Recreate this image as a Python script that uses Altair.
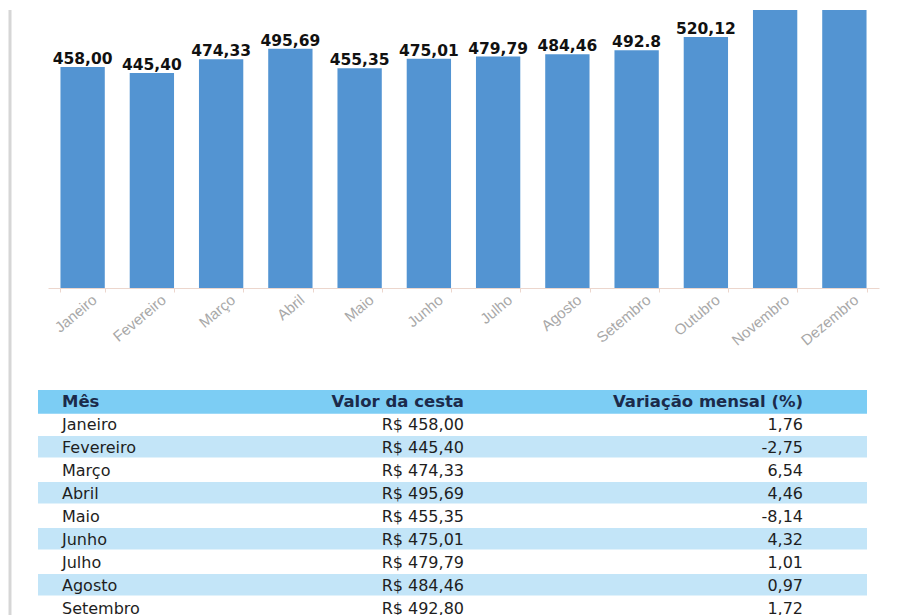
import altair as alt
import pandas as pd

# ---- data ----
months = ["Janeiro", "Fevereiro", "Março", "Abril", "Maio", "Junho", "Julho",
          "Agosto", "Setembro", "Outubro", "Novembro", "Dezembro"]
values = [458.00, 445.40, 474.33, 495.69, 455.35, 475.01, 479.79, 484.46,
          492.80, 520.12, 588.60, 578.13]
labels = ["458,00", "445,40", "474,33", "495,69", "455,35", "475,01", "479,79",
          "484,46", "492.8", "520,12", "588,60", "578,13"]

table_months = ["Janeiro", "Fevereiro", "Março", "Abril", "Maio", "Junho",
                "Julho", "Agosto", "Setembro"]
table_values = [458.00, 445.40, 474.33, 495.69, 455.35, 475.01, 479.79, 484.46, 492.80]
table_var = [1.76, -2.75, 6.54, 4.46, -8.14, 4.32, 1.01, 0.97, 1.72]
headers = ["Mês", "Valor da cesta", "Variação mensal (%)"]


def brl(v):
    return "R$ " + f"{v:.2f}".replace(".", ",")


def pct(v):
    return f"{v:.2f}".replace(".", ",")


bars_df = pd.DataFrame({"mes": months, "valor": values, "rotulo": labels})
table_df = pd.DataFrame({
    "row": list(range(1, len(table_months) + 1)),
    "mes": table_months,
    "valor": [brl(v) for v in table_values],
    "var": [pct(v) for v in table_var],
})
header_df = pd.DataFrame({"row": [0], "h1": [headers[0]], "h2": [headers[1]], "h3": [headers[2]]})
stripe_df = pd.DataFrame({"row": [0] + [r for r in table_df["row"] if r % 2 == 0]})

# ---- layout constants ----
W = 880
PLOT_H = 278
Y_MAX = 576.2
ROW_H = 23
N_ROWS = 10
TABLE_H = ROW_H * N_ROWS
GAP = 102

BAR_COLOR = "#5394d2"
HEADER_BAND = "#7ccdf4"
STRIPE_BAND = "#c3e5f8"
LINE_GRAY = "#d6d6d6"
AXIS_COLOR = "#ecd6cd"

# ---- bar chart ----
xenc = alt.X(
    "mes:N", sort=months, title=None,
    scale=alt.Scale(range=[40, 871], paddingInner=0.36, paddingOuter=0.18),
    axis=alt.Axis(labelAngle=320, labelAlign="right", labelBaseline="top",
                  labelOffset=7, labelPadding=0, labelFont="Liberation Sans",
                  labelFontSize=15, labelColor="#a8a8a8", domainColor=AXIS_COLOR,
                  tickColor=AXIS_COLOR, tickSize=4, tickBand="extent", grid=False),
)
yenc = alt.Y("valor:Q", title=None, axis=None,
             scale=alt.Scale(domain=[0, Y_MAX], nice=False, zero=True))

bars = alt.Chart(bars_df).mark_bar(color=BAR_COLOR, clip=True).encode(x=xenc, y=yenc)
bar_text = alt.Chart(bars_df).mark_text(
    font="DejaVu Sans", fontWeight="bold", fontSize=15.5, dy=-3,
    baseline="alphabetic", clip=True, color="#111111"
).encode(x=alt.X("mes:N", sort=months), y=alt.Y("valor:Q"), text="rotulo:N")
line_top = alt.Chart(alt.Data(values=[{}])).mark_rule(
    color=LINE_GRAY, strokeWidth=3
).encode(x=alt.value(2), y=alt.value(0), y2=alt.value(PLOT_H + GAP))

top = alt.layer(line_top, bars, bar_text).properties(width=W, height=PLOT_H)

# ---- table ----
yscale = alt.Scale(domain=[0, N_ROWS], range=[0, TABLE_H], nice=False, zero=False)

stripes = alt.Chart(stripe_df).transform_calculate(
    y0="datum.row", y1="datum.row == 0 ? datum.row + 1.03 : datum.row + 0.94"
).mark_rect().encode(
    x=alt.value(30), x2=alt.value(859),
    y=alt.Y("y0:Q", scale=yscale, axis=None), y2="y1:Q",
    color=alt.condition("datum.row == 0", alt.value(HEADER_BAND), alt.value(STRIPE_BAND)),
)

head_common = dict(font="DejaVu Sans", fontWeight="bold", fontSize=16.5,
                   baseline="middle", color="#1b2a4a")
body_common = dict(font="DejaVu Sans", fontSize=16, baseline="middle", color="#1e1e1e")


def ycenter():
    return alt.Y("yc:Q", scale=yscale, axis=None)


h1 = alt.Chart(header_df).transform_calculate(yc="datum.row + 0.5").mark_text(
    align="left", **head_common).encode(x=alt.value(54), y=ycenter(), text="h1:N")
h2 = alt.Chart(header_df).transform_calculate(yc="datum.row + 0.5").mark_text(
    align="right", **head_common).encode(x=alt.value(456), y=ycenter(), text="h2:N")
h3 = alt.Chart(header_df).transform_calculate(yc="datum.row + 0.5").mark_text(
    align="right", **head_common).encode(x=alt.value(795), y=ycenter(), text="h3:N")

c1 = alt.Chart(table_df).transform_calculate(yc="datum.row + 0.5").mark_text(
    align="left", **body_common).encode(x=alt.value(54), y=ycenter(), text="mes:N")
c2 = alt.Chart(table_df).transform_calculate(yc="datum.row + 0.5").mark_text(
    align="right", **body_common).encode(x=alt.value(456), y=ycenter(), text="valor:N")
c3 = alt.Chart(table_df).transform_calculate(yc="datum.row + 0.5").mark_text(
    align="right", **body_common).encode(x=alt.value(795), y=ycenter(), text="var:N")

line_bot = alt.Chart(alt.Data(values=[{}])).mark_rule(
    color=LINE_GRAY, strokeWidth=3
).encode(x=alt.value(2), y=alt.value(0), y2=alt.value(TABLE_H))

table = alt.layer(line_bot, stripes, h1, h2, h3, c1, c2, c3).properties(width=W, height=TABLE_H)

chart = alt.vconcat(top, table, spacing=GAP, bounds="flush").properties(
    padding=0, background="white"
).configure_view(stroke=None)

chart.save("out.html", embed_options={"renderer": "svg", "actions": False})
